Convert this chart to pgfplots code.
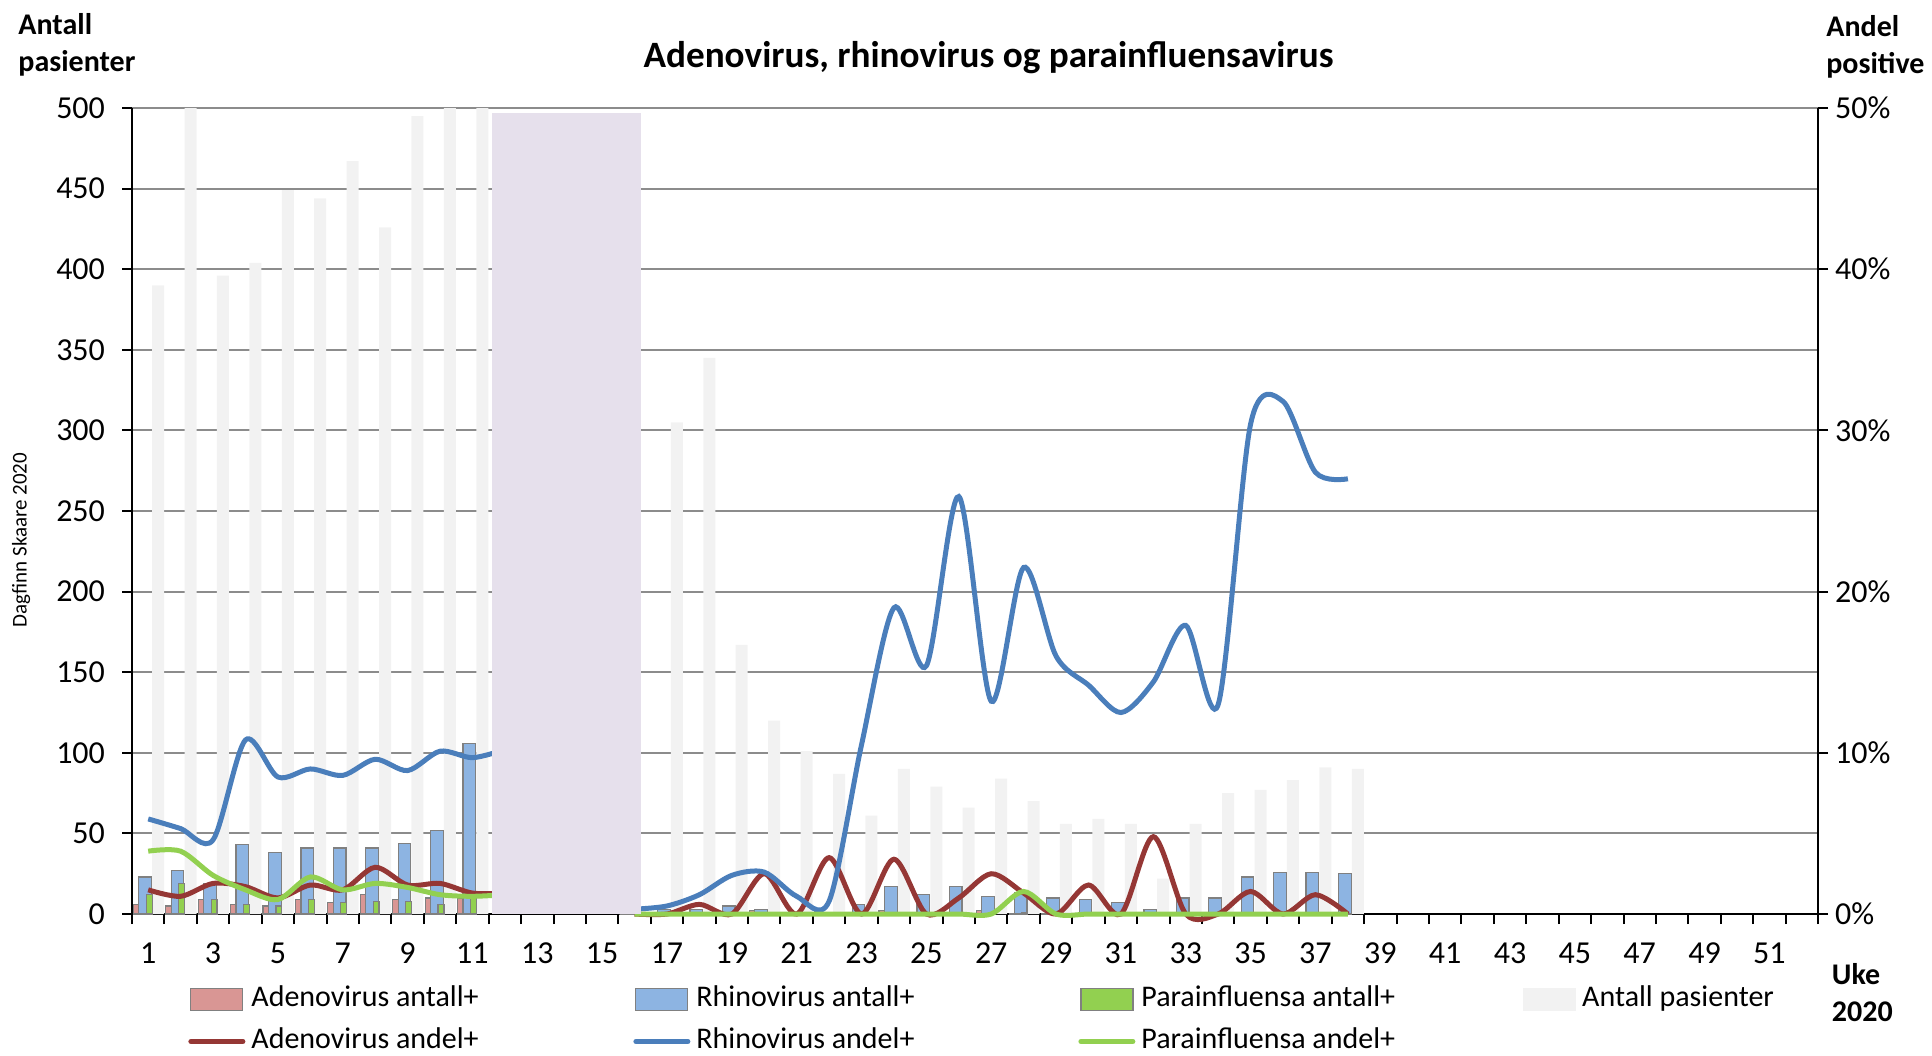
\documentclass[border=0pt]{standalone}
\usepackage{fontspec}
\setmainfont{Carlito}
\usepackage{pgfplots}
\pgfplotsset{compat=1.18}
\usepackage{pgfplotstable}

\definecolor{adbar}{RGB}{217,150,148}
\definecolor{rhbar}{RGB}{141,180,226}
\definecolor{pabar}{RGB}{146,208,80}
\definecolor{patbar}{RGB}{242,242,242}
\definecolor{shade}{RGB}{230,224,236}
\definecolor{adline}{RGB}{149,55,53}
\definecolor{rhline}{RGB}{74,126,187}
\definecolor{paline}{RGB}{146,208,80}
\definecolor{gridc}{RGB}{140,140,140}
\definecolor{bargray}{RGB}{128,128,128}

\pgfplotstableread{
week ad rh pa pas
1 6 23 12 390
2 5 27 19 520
3 9 19 9 396
4 6 43 6 404
5 5 38 5 449
6 9 41 9 444
7 7 41 7 467
8 12 41 8 426
9 9 44 8 495
10 10 52 6 520
11 10 106 12 520
16 0 4 0 0
17 0 3 0 305
18 0 3 0 345
19 0 5 0 167
20 2 3 0 120
21 0 0 0 101
22 3 0 0 87
23 0 6 0 61
24 2 17 0 90
25 0 12 0 79
26 0 17 0 66
27 2 11 0 84
28 0 13 1 70
29 0 10 0 56
30 0 9 0 59
31 0 7 0 56
32 1 3 0 22
33 0 10 0 56
34 0 10 0 75
35 0 23 0 77
36 0 26 0 83
37 0 26 0 91
38 0 25 0 90
}\bars

\pgfplotstableread{
week ad rh pa
1 1.5 5.9 3.9
2 1.1 5.3 3.9
3 1.9 4.6 2.4
4 1.7 10.8 1.5
5 1.0 8.5 0.9
6 1.8 9.0 2.3
7 1.5 8.6 1.5
8 2.9 9.6 1.9
9 1.8 8.9 1.65
10 1.9 10.1 1.2
11 1.3 9.7 1.1
12 1.3 10.2 1.2
}\andelA

\pgfplotstableread{
week ad rh pa
16 0 0.3 0
17 0 0.5 0
18 0.6 1.2 0
19 0 2.4 0
20 2.5 2.6 0
21 0 1.1 0
22 3.5 0.8 0
23 0 10.5 0
24 3.4 19.0 0
25 0 15.4 0
26 1.0 25.9 0
27 2.5 13.2 0
28 1.3 21.5 1.4
29 0 16.0 0
30 1.8 14.2 0
31 0 12.5 0
32 4.8 14.4 0
33 0 17.9 0
34 0 13.0 0
35 1.4 30.4 0
36 0 31.8 0
37 1.2 27.4 0
38 0 27.0 0
}\andelB

\begin{document}
\begin{tikzpicture}
\pgfplotsset{
  base/.style={
    scale only axis, width=843pt, height=403pt,
    xmin=0.5, xmax=52.5,
    tick align=outside, major tick length=5pt,
    tick style={black, line width=1pt},
    axis line style={black, line width=1.2pt, -},
    tick label style={font=\fontsize{16}{18}\selectfont},
    /pgf/number format/assume math mode=true,
  }
}
\begin{axis}[base,
  ymin=0, ymax=500,
  clip mode=individual,
  axis x line*=bottom, axis y line*=left,
  ytick={0,50,...,500},
  yticklabel style={xshift=-5pt},
  ymajorgrids, grid style={gridc, line width=1pt},
  xtick={0.5,1.5,...,52.5},
  xticklabels={1,,3,,5,,7,,9,,11,,13,,15,,17,,19,,21,,23,,25,,27,,29,,31,,33,,35,,37,,39,,41,,43,,45,,47,,49,,51,,},
  xticklabel style={xshift=8.1pt, yshift=-6pt},
]
\addplot[ybar, bar width=0.37, bar shift=0pt, fill=patbar, draw=none] table[x expr=\thisrow{week}+0.305, y=pas] {\bars};
\addplot[ybar, bar width=0.17, bar shift=0pt, fill=adbar, draw=bargray, line width=0.6pt] table[x expr=\thisrow{week}-0.374, y=ad] {\bars};
\addplot[ybar, bar width=0.39, bar shift=0pt, fill=rhbar, draw=bargray, line width=0.6pt] table[x expr=\thisrow{week}-0.095, y=rh] {\bars};
\addplot[ybar, bar width=0.18, bar shift=0pt, fill=pabar, draw=bargray, line width=0.6pt] table[x expr=\thisrow{week}+0.03, y=pa] {\bars};

\coordinate (bbl) at (rel axis cs:-0.07829,-0.1749);
\coordinate (btr) at (rel axis cs:1.0676,1.134);
\node[font=\bfseries\fontsize{15}{18.5}\selectfont, align=left, anchor=north west, inner sep=0pt] at (rel axis cs:-0.0676,1.118) {Antall\\pasienter};
\node[font=\bfseries\fontsize{18.6}{21}\selectfont] at (rel axis cs:0.508,1.062) {Adenovirus, rhinovirus og parainfluensavirus};
\node[font=\bfseries\fontsize{15}{18.5}\selectfont, align=left, anchor=north west, inner sep=0pt] at (rel axis cs:1.0047,1.115) {Andel\\positive};
\node[font=\bfseries\fontsize{15}{18.5}\selectfont, align=left, anchor=north west, inner sep=0pt] at (rel axis cs:1.008,-0.061) {Uke\\2020};
\node[font=\fontsize{10.5}{12}\selectfont, rotate=90] at (rel axis cs:-0.0658,0.464) {Dagfinn Skaare 2020};
\end{axis}

\begin{axis}[base,
  ymin=0, ymax=50,
  axis y line*=right, axis x line=none,
  ytick={0,10,...,50},
  yticklabel={\pgfmathprintnumber{\tick}\%},
  clip=false,
  legend columns=4,
  legend style={at={(rel axis cs:0.0332,-0.0875)}, anchor=north west, draw=none, fill=none, inner sep=0pt,
    row sep=6.5pt, font=\fontsize{15}{17}\selectfont,
    nodes={inner sep=0pt, text height=11pt, text depth=3.5pt},
    /tikz/every odd column/.append style={column sep=3pt}},
  legend image code/.code={\draw[#1, line cap=round] (0pt,0pt) -- (26pt,0pt);},
]
\addlegendimage{legend image code/.code={\draw[fill=adbar, draw=bargray, line width=0.6pt] (0pt,-5.5pt) rectangle (26pt,5.5pt);}}
\addlegendentry{\makebox[191pt][l]{Adenovirus antall+}}
\addlegendimage{legend image code/.code={\draw[fill=rhbar, draw=bargray, line width=0.6pt] (0pt,-5.5pt) rectangle (26pt,5.5pt);}}
\addlegendentry{\makebox[191pt][l]{Rhinovirus antall+}}
\addlegendimage{legend image code/.code={\draw[fill=pabar, draw=bargray, line width=0.6pt] (0pt,-5.5pt) rectangle (26pt,5.5pt);}}
\addlegendentry{\makebox[191pt][l]{Parainfluensa antall+}}
\addlegendimage{legend image code/.code={\fill[patbar] (0pt,-5.5pt) rectangle (26pt,5.5pt);}}
\addlegendentry{\makebox[120pt][l]{Antall pasienter}}

\addplot[adline, line width=2.5pt, smooth] table[x=week, y=ad] {\andelA};
\addlegendentry{\makebox[191pt][l]{Adenovirus andel+}}
\addplot[rhline, line width=2.5pt, smooth] table[x=week, y=rh] {\andelA};
\addlegendentry{\makebox[191pt][l]{Rhinovirus andel+}}
\addplot[paline, line width=2.5pt, smooth] table[x=week, y=pa] {\andelA};
\addlegendentry{\makebox[191pt][l]{Parainfluensa andel+}}
\addplot[adline, line width=2.5pt, smooth, forget plot] table[x=week, y=ad] {\andelB};
\addplot[rhline, line width=2.5pt, smooth, forget plot] table[x=week, y=rh] {\andelB};
\addplot[paline, line width=2.5pt, smooth, forget plot] table[x=week, y=pa] {\andelB};

\addplot[fill=shade, draw=none, forget plot] coordinates {(11.6,49.7) (16.2,49.7)} \closedcycle;
\end{axis}
\pgfresetboundingbox
\path[use as bounding box] (bbl) rectangle (btr);
\end{tikzpicture}
\end{document}
